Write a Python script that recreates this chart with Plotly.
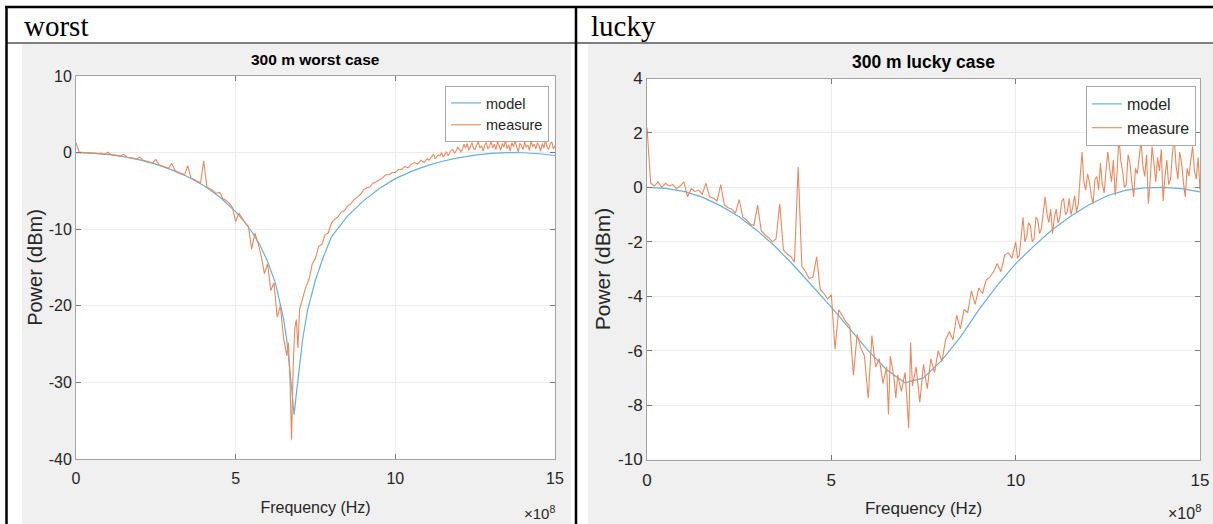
import plotly.graph_objects as go

W, H = 1213, 524

# ---------------- data (frequency in units of 1e8 Hz, power in dBm) ----------------
worst_model_f = [0, 0.5, 1, 1.5, 2, 2.5, 3, 3.5, 4, 4.5, 5, 5.25, 5.5, 5.75, 6, 6.25, 6.5, 6.6, 6.7,
                 6.8, 6.83, 6.9, 7.0, 7.1, 7.25, 7.5, 7.75, 8, 8.5, 9, 9.5, 10, 10.5, 11, 11.5, 12,
                 12.5, 13, 13.5, 14, 14.5, 15]
worst_model_p = [0, -0.06, -0.23, -0.52, -0.95, -1.5, -2.25, -3.15, -4.3, -5.8, -7.7, -8.9, -10.3,
                 -12.0, -14.2, -17.1, -21.7, -24.5, -28.5, -33.5, -34.2, -31.5, -27.5, -24.3, -20.6,
                 -16.6, -13.6, -11.0, -8.3, -6.3, -4.7, -3.4, -2.45, -1.7, -1.1, -0.65, -0.32, -0.1,
                 -0.01, -0.02, -0.15, -0.38]

worst_meas_f = [0.0, 0.1, 0.2, 0.3, 0.4, 0.5, 0.6, 0.7, 0.8, 0.9, 1.0, 1.1, 1.2, 1.3, 1.4, 1.5, 1.6,
                1.7, 1.8, 1.9, 2.0, 2.1, 2.2, 2.3, 2.4, 2.5, 2.6, 2.7, 2.8, 2.9, 3.0, 3.1, 3.2, 3.3,
                3.4, 3.5, 3.6, 3.7, 3.8, 3.9, 4.0, 4.1, 4.2, 4.3, 4.4, 4.5, 4.6, 4.7, 4.8, 4.9, 5.0,
                5.1, 5.2, 5.3, 5.4, 5.5, 5.6, 5.7, 5.8, 5.9, 6.0, 6.1, 6.2, 6.3, 6.4, 6.5, 6.6, 6.65,
                6.7, 6.75, 6.8, 6.85, 6.9, 6.95, 7.0, 7.1, 7.2, 7.3, 7.4, 7.5, 7.6, 7.7, 7.8, 7.9,
                8.0, 8.1, 8.2, 8.3, 8.4, 8.5, 8.6, 8.7, 8.8, 8.9, 9.0, 9.1, 9.2, 9.3, 9.4, 9.5, 9.6,
                9.7, 9.8, 9.9, 10.0, 10.1, 10.2, 10.3, 10.4, 10.5, 10.6, 10.7, 10.8, 10.9,
                11.0, 11.05, 11.1, 11.15, 11.2, 11.25, 11.3, 11.35, 11.4, 11.45,
                11.5, 11.55, 11.6, 11.65, 11.7, 11.75, 11.8, 11.85, 11.9, 11.95,
                12.0, 12.05, 12.1, 12.15, 12.2, 12.25, 12.3, 12.35, 12.4, 12.45,
                12.5, 12.55, 12.6, 12.65, 12.7, 12.75, 12.8, 12.85, 12.9, 12.95,
                13.0, 13.05, 13.1, 13.15, 13.2, 13.25, 13.3, 13.35, 13.4, 13.45,
                13.5, 13.55, 13.6, 13.65, 13.7, 13.75, 13.8, 13.85, 13.9, 13.95,
                14.0, 14.05, 14.1, 14.15, 14.2, 14.25, 14.3, 14.35, 14.4, 14.45,
                14.5, 14.55, 14.6, 14.65, 14.7, 14.75, 14.8, 14.85, 14.9, 14.95, 15.0]
worst_meas_p = [1.3, 0.05, 0.05, -0.05, 0.0, -0.1, -0.05, -0.15, -0.1, -0.25, 0.05, -0.3, -0.3, -0.4,
                -0.45, -0.2, -0.6, -0.65, -0.75, -0.85, -0.6, -1.0, -1.1, -1.25, -1.35, -0.9, -1.6,
                -1.75, -1.9, -2.05, -1.4, -2.35, -2.55, -2.7, -2.9, -1.7, -3.3, -3.5, -3.75, -3.95,
                -1.1, -4.5, -4.7, -5.0, -5.3, -5.2, -6.0, -6.25, -6.6, -7.2, -9.0, -7.9, -8.5, -9.2,
                -9.6, -12.6, -10.5, -11.8, -13.5, -15.8, -14.5, -18.0, -17.0, -21.5, -20.0, -24.2,
                -26.5, -24.8, -29.5, -37.5, -28.0, -23.0, -21.8, -25.5, -20.5, -19.0, -17.5, -16.5,
                -14.5, -13.8, -12.2, -12.0, -10.7, -10.5, -9.2, -8.7, -8.4, -7.8, -7.6, -7.0, -6.7,
                -6.2, -5.9, -5.5, -4.9, -4.6, -4.5, -4.0, -3.8, -3.6, -3.3, -2.9, -2.9, -2.6,
                -2.6, -2.2, -2.2, -1.8, -2.0, -1.5, -1.3, -1.5, -1.0, -1.3,
                -0.8, -1.0, -0.7, -0.4, -0.2, -0.8, -0.6, -0.3, -0.4, 0.0,
                -0.6, -0.2, 0.1, -0.4, -0.1, 0.3, 0.4, -0.1, 0.2, 0.7,
                0.5, 0.1, 0.4, 1.1, 0.6, 1.2, 0.3, 0.8, 1.3, 0.5,
                0.4, 1.0, 1.4, 0.6, 0.9, 0.2, 1.0, 1.3, 0.5, 0.8,
                1.5, 0.6, 1.1, 0.4, 1.4, 0.9, 0.3, 1.2, 0.7, 1.6,
                0.5, 1.0, 0.2, 1.3, 0.8, 1.5, 0.6, 0.1, 1.2, 0.9,
                0.4, 1.4, 0.7, 1.0, 0.3, 1.5, 0.8, 1.1, 0.5, 1.3,
                0.9, 0.2, 1.2, 0.6, 1.6, 0.8, 0.4, 1.1, 1.4, 0.5, 0.9]

lucky_model_f = [0, 0.5, 1, 1.5, 2, 2.5, 3, 3.5, 4, 4.5, 5, 5.5, 6, 6.5, 7, 7.5, 8, 8.5, 9, 9.5, 10,
                 10.5, 11, 11.5, 12, 12.5, 13, 13.5, 14, 14.5, 15]
lucky_model_p = [0, -0.04, -0.15, -0.36, -0.68, -1.08, -1.6, -2.2, -2.9, -3.65, -4.4, -5.2, -6.0,
                 -6.7, -7.18, -7.0, -6.35, -5.5, -4.5, -3.6, -2.8, -2.15, -1.55, -1.05, -0.63, -0.3,
                 -0.1, -0.02, 0.0, -0.05, -0.17]

lucky_meas_f = [0.0, 0.1, 0.2, 0.3, 0.4, 0.5, 0.6, 0.7, 0.8, 0.9, 1.0, 1.1, 1.2, 1.3, 1.4, 1.5, 1.6,
                1.7, 1.8, 1.9, 2.0, 2.1, 2.2, 2.3, 2.4, 2.5, 2.6, 2.7, 2.8, 2.9, 3.0, 3.1, 3.2, 3.3,
                3.4, 3.5, 3.6, 3.7, 3.8, 3.9, 4.0, 4.1, 4.2, 4.3, 4.4, 4.5, 4.6, 4.7, 4.8, 4.9, 5.0,
                5.1, 5.2, 5.3, 5.4, 5.5, 5.6, 5.7, 5.8, 5.9, 6.0, 6.1, 6.2, 6.3, 6.4, 6.5, 6.55, 6.6,
                6.7, 6.75, 6.8, 6.9, 7.0, 7.1, 7.15, 7.2, 7.3, 7.4, 7.5, 7.6, 7.7, 7.8, 7.9, 8.0,
                8.1, 8.2, 8.3, 8.4, 8.5, 8.6, 8.7, 8.8, 8.9, 9.0, 9.1, 9.2, 9.3, 9.4, 9.5, 9.6, 9.7,
                9.8, 9.9,
                10.0, 10.05, 10.1, 10.15, 10.2, 10.25, 10.3, 10.35, 10.4, 10.45,
                10.5, 10.55, 10.6, 10.65, 10.7, 10.75, 10.8, 10.85, 10.9, 10.95,
                11.0, 11.05, 11.1, 11.15, 11.2, 11.25, 11.3, 11.35, 11.4, 11.45,
                11.5, 11.55, 11.6, 11.65, 11.7, 11.75, 11.8, 11.85, 11.9, 11.95,
                12.0, 12.05, 12.1, 12.15, 12.2, 12.25, 12.3, 12.35, 12.4, 12.45,
                12.5, 12.55, 12.6, 12.65, 12.7, 12.75, 12.8, 12.85, 12.9, 12.95,
                13.0, 13.05, 13.1, 13.15, 13.2, 13.25, 13.3, 13.35, 13.4, 13.45,
                13.5, 13.55, 13.6, 13.65, 13.7, 13.75, 13.8, 13.85, 13.9, 13.95,
                14.0, 14.05, 14.1, 14.15, 14.2, 14.25, 14.3, 14.35, 14.4, 14.45,
                14.5, 14.55, 14.6, 14.65, 14.7, 14.75, 14.8, 14.85, 14.9, 14.95, 15.0]
lucky_meas_p = [2.2, 0.15, 0.05, 0.2, 0.0, 0.15, 0.05, 0.1, -0.05, 0.05, 0.2, -0.35, -0.05, -0.15,
                -0.1, -0.25, 0.15, -0.35, -0.4, -0.5, 0.1, -0.65, -0.75, -0.8, -0.95, -0.45, -1.1,
                -1.2, -1.35, -1.4, -0.65, -1.6, -1.75, -1.85, -2.0, -1.9, -0.6, -2.3, -2.45, -2.55,
                -2.75, 0.75, -2.9, -3.1, -3.35, -3.3, -2.55, -3.75, -3.9, -4.1, -3.95, -5.95, -4.5,
                -4.75, -4.95, -5.1, -6.9, -5.4, -5.9, -6.2, -7.75, -5.45, -6.6, -6.3, -7.2, -6.6,
                -8.35, -6.2, -7.0, -7.75, -6.9, -7.5, -6.8, -8.85, -5.7, -7.3, -6.6, -7.9, -6.5,
                -7.4, -6.3, -6.8, -6.0, -6.4, -5.6, -5.3, -5.6, -4.7, -5.2, -4.5, -4.6, -3.8, -4.3,
                -3.7, -3.9, -3.4, -3.3, -3.1, -2.8, -3.1, -2.5, -2.4, -2.6,
                -2.0, -2.6, -2.5, -1.7, -1.1, -2.0, -1.8, -1.3, -1.4, -2.0,
                -1.9, -1.1, -1.2, -1.7, -1.5, -0.9, -0.35, -1.0, -1.3, -0.8,
                -1.7, -1.1, -0.8, -1.3, -1.1, -0.5, -0.4, -1.0, -0.9, -0.4,
                -1.0, -0.7, -0.3, -0.9, -0.6, 0.4, 1.3, 0.2, -0.1, 0.5,
                0.2, -0.3, -0.6, 0.3, 0.4, -0.1, 0.9, 0.1, -0.2, 0.6,
                1.3, 0.7, 0.2, 1.0, -0.3, 0.5, 1.85, 1.0, 0.6, 0.0,
                0.1, 1.2, 0.9, 0.2, -0.35, 0.7, 0.5, 1.1, 1.7, 0.8,
                0.4, 1.2, -0.6, 0.3, 1.5, 0.9, 0.2, 1.1, 0.6, 1.4,
                -0.5, 0.4, 1.0, 0.1, 0.3, 1.2, 1.85, 0.8, 0.3, 1.3,
                0.9, 0.2, -0.35, 0.7, 0.4, 1.0, 1.5, 0.6, 0.3, 1.1, -0.1]

x_ticks = [0, 5, 10, 15]
x_tick_text = ["0", "5", "10", "15"]
worst_y_ticks = [10, 0, -10, -20, -30, -40]
worst_y_text = ["10", "0", "-10", "-20", "-30", "-40"]
lucky_y_ticks = [4, 2, 0, -2, -4, -6, -8, -10]
lucky_y_text = ["4", "2", "0", "-2", "-4", "-6", "-8", "-10"]

assert len(worst_meas_f) == len(worst_meas_p)
assert len(lucky_meas_f) == len(lucky_meas_p)

# ---------------- styling ----------------
BLUE = "#6aaedc"
ORANGE = "#e8895e"
PANEL = "#f0f0f0"
SANS = "Liberation Sans, Arial, sans-serif"
SERIF = "Liberation Serif, Times New Roman, serif"
TXT = "#262626"


def px(x):
    return x / W


def py(y):
    return 1 - y / H


L = dict(x0=76, x1=555, y0=76, y1=459)
R = dict(x0=647, x1=1200, y0=78.5, y1=459.5)

fig = go.Figure()
fig.add_trace(go.Scatter(x=worst_model_f, y=worst_model_p, name="model", mode="lines",
                         line=dict(color=BLUE, width=1.2), xaxis="x", yaxis="y", legend="legend"))
fig.add_trace(go.Scatter(x=worst_meas_f, y=worst_meas_p, name="measure", mode="lines",
                         line=dict(color=ORANGE, width=1.1), xaxis="x", yaxis="y", legend="legend"))
fig.add_trace(go.Scatter(x=lucky_model_f, y=lucky_model_p, name="model", mode="lines",
                         line=dict(color=BLUE, width=1.2), xaxis="x2", yaxis="y2", legend="legend2"))
fig.add_trace(go.Scatter(x=lucky_meas_f, y=lucky_meas_p, name="measure", mode="lines",
                         line=dict(color=ORANGE, width=1.1), xaxis="x2", yaxis="y2", legend="legend2"))


def axis_common(size):
    return dict(showline=True, linecolor="#a3a3a3", linewidth=1, mirror="ticks",
                ticks="inside", ticklen=5, tickcolor="#7a7a7a", showgrid=True,
                gridcolor="#ececec", gridwidth=1, zeroline=False, automargin=False,
                tickfont=dict(family=SANS, size=size, color=TXT))


xa = axis_common(16)
xa.update(domain=[px(L["x0"]), px(L["x1"])], range=[0, 15], tickvals=x_ticks,
          ticktext=x_tick_text, anchor="y", ticklabelstandoff=5,
          title=dict(text="Frequency (Hz)", font=dict(family=SANS, size=16, color=TXT),
                     standoff=15))
ya = axis_common(16)
ya.update(domain=[py(L["y1"]), py(L["y0"])], range=[-40, 10], tickvals=worst_y_ticks,
          ticktext=worst_y_text, anchor="x",
          title=dict(text="Power (dBm)", font=dict(family=SANS, size=20, color=TXT),
                     standoff=0))
xa2 = axis_common(17)
xa2.update(domain=[px(R["x0"]), px(R["x1"])], range=[0, 15], tickvals=x_ticks,
           ticktext=x_tick_text, anchor="y2", ticklabelstandoff=5,
           title=dict(text="Frequency (Hz)", font=dict(family=SANS, size=17, color=TXT),
                      standoff=13))
ya2 = axis_common(17)
ya2.update(domain=[py(R["y1"]), py(R["y0"])], range=[-10, 4], tickvals=lucky_y_ticks,
           ticktext=lucky_y_text, anchor="x2",
           title=dict(text="Power (dBm)", font=dict(family=SANS, size=21, color=TXT),
                      standoff=1))

shapes = [
    # grey figure panels
    dict(type="rect", xref="paper", yref="paper", x0=px(22), x1=px(571), y0=0, y1=py(44),
         fillcolor=PANEL, line=dict(width=0), layer="below"),
    dict(type="rect", xref="paper", yref="paper", x0=px(588), x1=1, y0=0, y1=py(44),
         fillcolor=PANEL, line=dict(width=0), layer="below"),
    # white axes backgrounds
    dict(type="rect", xref="paper", yref="paper", x0=px(L["x0"]), x1=px(L["x1"]),
         y0=py(L["y1"]), y1=py(L["y0"]), fillcolor="white", line=dict(width=0), layer="below"),
    dict(type="rect", xref="paper", yref="paper", x0=px(R["x0"]), x1=px(R["x1"]),
         y0=py(R["y1"]), y1=py(R["y0"]), fillcolor="white", line=dict(width=0), layer="below"),
    # table borders
    dict(type="line", xref="paper", yref="paper", x0=px(5), x1=1, y0=py(7), y1=py(7),
         line=dict(color="black", width=2.5)),
    dict(type="line", xref="paper", yref="paper", x0=px(6.5), x1=px(6.5), y0=0, y1=py(6),
         line=dict(color="black", width=2.5)),
    dict(type="line", xref="paper", yref="paper", x0=px(576), x1=px(576), y0=0, y1=py(6),
         line=dict(color="black", width=2.5)),
    dict(type="line", xref="paper", yref="paper", x0=px(6), x1=1, y0=py(43), y1=py(43),
         line=dict(color="black", width=1.2)),
]

annotations = [
    dict(text="worst", x=px(22), y=py(26), xref="paper", yref="paper", xanchor="left",
         yanchor="middle", showarrow=False, font=dict(family=SERIF, size=29, color="black")),
    dict(text="lucky", x=px(589), y=py(26), xref="paper", yref="paper", xanchor="left",
         yanchor="middle", showarrow=False, font=dict(family=SERIF, size=29, color="black")),
    dict(text="<b>300 m worst case</b>", x=px((L["x0"] + L["x1"]) / 2), y=py(60), xref="paper",
         yref="paper", xanchor="center", yanchor="middle", showarrow=False,
         font=dict(family=SANS, size=15.5, color="black")),
    dict(text="<b>300 m lucky case</b>", x=px((R["x0"] + R["x1"]) / 2), y=py(62), xref="paper",
         yref="paper", xanchor="center", yanchor="middle", showarrow=False,
         font=dict(family=SANS, size=17.5, color="black")),
    dict(text="×10<sup>8</sup>", x=px(557), y=py(512), xref="paper", yref="paper",
         xanchor="right", yanchor="middle", showarrow=False,
         font=dict(family=SANS, size=15, color=TXT)),
    dict(text="×10<sup>8</sup>", x=px(1203), y=py(512), xref="paper", yref="paper",
         xanchor="right", yanchor="middle", showarrow=False,
         font=dict(family=SANS, size=16, color=TXT)),
]


def legend_style(xr, yt, size):
    return dict(x=px(xr), y=py(yt), xref="paper", yref="paper", xanchor="right", yanchor="top",
                bgcolor="white", bordercolor="#a8a8a8", borderwidth=1, itemwidth=30,
                font=dict(family=SANS, size=size, color=TXT), tracegroupgap=0)


fig.update_layout(
    width=W, height=H, margin=dict(l=0, r=0, t=0, b=0),
    paper_bgcolor="white", plot_bgcolor="rgba(0,0,0,0)",
    xaxis=xa, yaxis=ya, xaxis2=xa2, yaxis2=ya2,
    showlegend=True,
    legend=legend_style(549, 86, 14.5),
    legend2=legend_style(1196, 86, 16),
    shapes=shapes, annotations=annotations,
)

fig.write_html("out.html")
